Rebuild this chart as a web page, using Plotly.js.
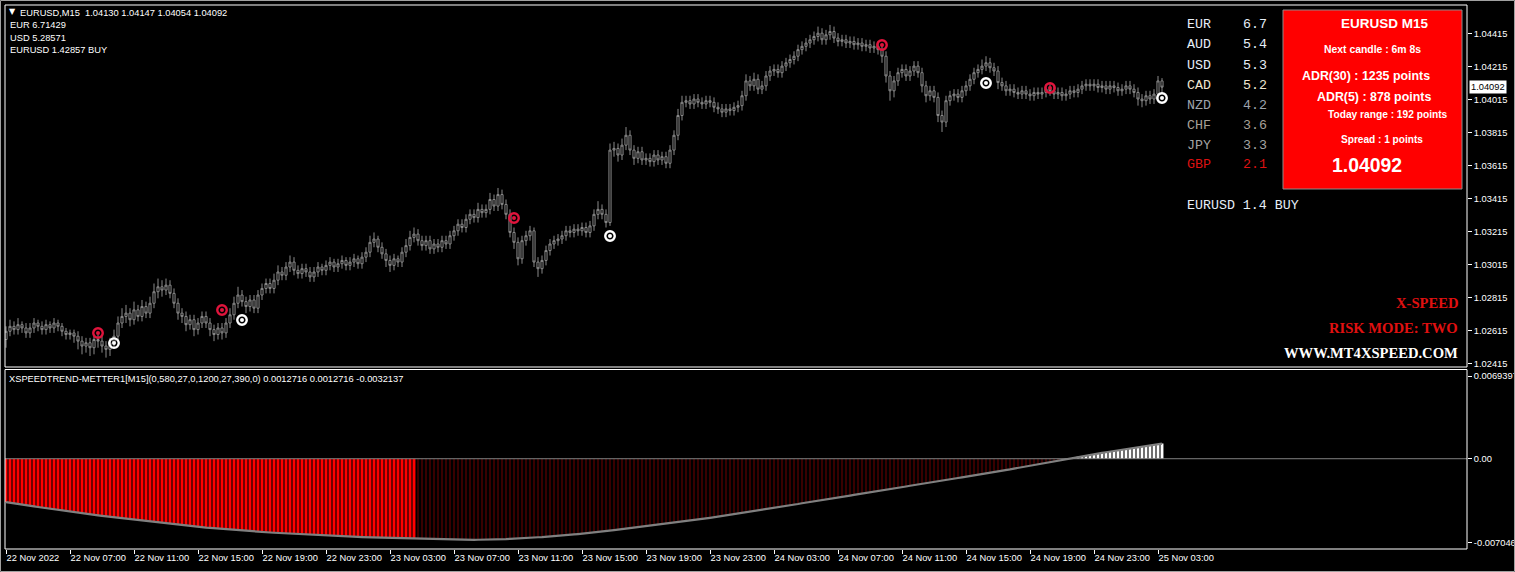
<!DOCTYPE html>
<html><head><meta charset="utf-8">
<script src="https://cdn.plot.ly/plotly-3.0.1.min.js"></script>
<style>html,body{margin:0;padding:0;background:#000;}#chart{width:1515px;height:572px;}</style>
</head><body><div id="chart"></div>
<script>
// ---- EURUSD M15 candles (bar 0 = 22 Nov 2022 03:00) ----
const opens = [
1.0256,1.0261,1.0264,1.0262,1.0265,1.0263,1.0260,1.0263,1.0266,1.0264,
1.0262,1.0265,1.0263,1.0266,1.0264,1.0261,1.0259,1.0260,1.0258,1.0255,
1.0252,1.0254,1.0251,1.0256,1.0255,1.0252,1.0250,1.0254,1.0258,1.0266,
1.0270,1.0272,1.0268,1.0274,1.0270,1.0276,1.0272,1.0278,1.0285,1.0288,
1.0286,1.0289,1.0284,1.0278,1.0272,1.0270,1.0265,1.0268,1.0262,1.0266,
1.0270,1.0266,1.0262,1.0259,1.0263,1.0260,1.0266,1.0271,1.0278,1.0283,
1.0279,1.0276,1.0280,1.0275,1.0283,1.0287,1.0290,1.0287,1.0292,1.0297,
1.0295,1.0300,1.0303,1.0298,1.0296,1.0299,1.0297,1.0294,1.0297,1.0300,
1.0298,1.0301,1.0303,1.0300,1.0302,1.0304,1.0301,1.0303,1.0305,1.0302,
1.0306,1.0309,1.0315,1.0317,1.0312,1.0308,1.0304,1.0301,1.0305,1.0303,
1.0309,1.0313,1.0318,1.0320,1.0316,1.0313,1.0316,1.0311,1.0314,1.0312,
1.0316,1.0314,1.0319,1.0322,1.0326,1.0324,1.0329,1.0332,1.0330,1.0335,
1.0333,1.0335,1.0341,1.0337,1.0344,1.0338,1.0332,1.0321,1.0315,1.0305,
1.0316,1.0319,1.0322,1.0303,1.0299,1.0304,1.0310,1.0314,1.0316,1.0317,
1.0319,1.0322,1.0321,1.0323,1.0322,1.0324,1.0321,1.0325,1.0332,1.0335,
1.0332,1.0327,1.0371,1.0372,1.0368,1.0374,1.0380,1.0371,1.0366,1.0370,
1.0365,1.0366,1.0364,1.0368,1.0365,1.0367,1.0363,1.0371,1.0380,1.0392,
1.0400,1.0401,1.0399,1.0402,1.0400,1.0399,1.0401,1.0400,1.0397,1.0396,
1.0394,1.0396,1.0395,1.0397,1.0398,1.0404,1.0413,1.0410,1.0414,1.0408,
1.0410,1.0416,1.0419,1.0420,1.0418,1.0422,1.0424,1.0426,1.0428,1.0432,
1.0434,1.0436,1.0438,1.0440,1.0442,1.0438,1.0441,1.0443,1.0439,1.0437,
1.0438,1.0436,1.0437,1.0435,1.0436,1.0434,1.0435,1.0433,1.0434,1.0432,
1.0428,1.0416,1.0407,1.0413,1.0418,1.0420,1.0416,1.0419,1.0422,1.0418,
1.0410,1.0404,1.0407,1.0403,1.0392,1.0388,1.0401,1.0404,1.0405,1.0403,
1.0407,1.0410,1.0414,1.0418,1.0420,1.0422,1.0424,1.0421,1.0419,1.0412,
1.0410,1.0407,1.0408,1.0406,1.0405,1.0407,1.0405,1.0404,1.0406,1.0405,
1.0406,1.0408,1.0407,1.0405,1.0406,1.0404,1.0405,1.0407,1.0406,1.0408,
1.0410,1.0411,1.0410,1.0411,1.0409,1.0410,1.0408,1.0410,1.0409,1.0407,
1.0408,1.0410,1.0408,1.0406,1.0402,1.0401,1.0404,1.0402,1.0405,1.04130];
const highs = [
1.0264,1.0268,1.0267,1.0269,1.0267,1.0266,1.0266,1.0269,1.0268,1.0267,
1.0268,1.0267,1.0269,1.0268,1.0266,1.0263,1.0262,1.0262,1.0261,1.0258,
1.0257,1.0257,1.0259,1.0259,1.0258,1.0255,1.0257,1.0262,1.0270,1.0275,
1.0277,1.0275,1.0279,1.0277,1.0280,1.0279,1.0282,1.0290,1.0293,1.0292,
1.0293,1.0292,1.0287,1.0281,1.0275,1.0273,1.0271,1.0271,1.0269,1.0273,
1.0273,1.0269,1.0265,1.0266,1.0266,1.0269,1.0275,1.0282,1.0288,1.0286,
1.0282,1.0283,1.0283,1.0286,1.0290,1.0293,1.0293,1.0296,1.0301,1.0300,
1.0303,1.0307,1.0306,1.0301,1.0302,1.0302,1.0300,1.0300,1.0303,1.0302,
1.0304,1.0306,1.0305,1.0305,1.0307,1.0306,1.0306,1.0308,1.0307,1.0309,
1.0312,1.0319,1.0321,1.0319,1.0315,1.0311,1.0307,1.0308,1.0307,1.0312,
1.0317,1.0322,1.0324,1.0323,1.0319,1.0319,1.0319,1.0317,1.0317,1.0319,
1.0319,1.0322,1.0325,1.0329,1.0329,1.0332,1.0335,1.0335,1.0339,1.0338,
1.0338,1.0345,1.0344,1.0348,1.0347,1.0341,1.0335,1.0324,1.0318,1.0319,
1.0322,1.0325,1.0324,1.0306,1.0307,1.0313,1.0317,1.0319,1.0320,1.0322,
1.0325,1.0325,1.0326,1.0326,1.0327,1.0327,1.0328,1.0335,1.0340,1.0338,
1.0335,1.0375,1.0376,1.0375,1.0378,1.0385,1.0383,1.0374,1.0373,1.0373,
1.0369,1.0369,1.0371,1.0371,1.0370,1.0370,1.0374,1.0383,1.0396,1.0404,
1.0404,1.0404,1.0405,1.0405,1.0403,1.0404,1.0404,1.0403,1.0400,1.0399,
1.0399,1.0399,1.0400,1.0401,1.0407,1.0417,1.0416,1.0418,1.0417,1.0413,
1.0419,1.0422,1.0423,1.0423,1.0425,1.0427,1.0429,1.0431,1.0435,1.0437,
1.0439,1.0441,1.0443,1.0446,1.0445,1.0444,1.0447,1.0446,1.0442,1.0441,
1.0441,1.0440,1.0440,1.0439,1.0439,1.0438,1.0438,1.0437,1.0437,1.0435,
1.0431,1.0419,1.0416,1.0421,1.0423,1.0423,1.0422,1.0425,1.0425,1.0421,
1.0413,1.0410,1.0410,1.0406,1.0395,1.0404,1.0407,1.0408,1.0408,1.0410,
1.0413,1.0417,1.0421,1.0423,1.0426,1.0428,1.0427,1.0424,1.0422,1.0415,
1.0413,1.0411,1.0411,1.0409,1.0410,1.0410,1.0408,1.0409,1.0409,1.0409,
1.0411,1.0411,1.0410,1.0409,1.0409,1.0408,1.0410,1.0410,1.0411,1.0413,
1.0414,1.0414,1.0414,1.0414,1.0413,1.0413,1.0413,1.0413,1.0412,1.0411,
1.0413,1.0413,1.0411,1.0409,1.0405,1.0407,1.0407,1.0408,1.0416,1.04147];
const lows = [
1.0251,1.0258,1.0259,1.0259,1.0260,1.0257,1.0257,1.0260,1.0261,1.0259,
1.0259,1.0260,1.0260,1.0261,1.0258,1.0256,1.0256,1.0254,1.0250,1.0247,
1.0248,1.0246,1.0247,1.0251,1.0248,1.0245,1.0246,1.0251,1.0255,1.0263,
1.0266,1.0264,1.0265,1.0267,1.0267,1.0269,1.0269,1.0275,1.0281,1.0282,
1.0283,1.0281,1.0275,1.0268,1.0266,1.0261,1.0262,1.0258,1.0259,1.0263,
1.0263,1.0258,1.0255,1.0256,1.0256,1.0257,1.0263,1.0268,1.0275,1.0276,
1.0272,1.0273,1.0272,1.0272,1.0280,1.0284,1.0284,1.0284,1.0289,1.0292,
1.0292,1.0297,1.0295,1.0293,1.0293,1.0294,1.0291,1.0291,1.0294,1.0295,
1.0295,1.0298,1.0297,1.0297,1.0299,1.0298,1.0298,1.0300,1.0299,1.0299,
1.0303,1.0306,1.0312,1.0309,1.0305,1.0300,1.0297,1.0298,1.0300,1.0300,
1.0306,1.0310,1.0315,1.0313,1.0310,1.0310,1.0308,1.0308,1.0309,1.0309,
1.0311,1.0311,1.0316,1.0319,1.0321,1.0321,1.0326,1.0327,1.0327,1.0330,
1.0330,1.0332,1.0334,1.0334,1.0335,1.0329,1.0318,1.0311,1.0301,1.0302,
1.0313,1.0316,1.0300,1.0294,1.0296,1.0301,1.0307,1.0311,1.0313,1.0314,
1.0316,1.0318,1.0318,1.0319,1.0319,1.0318,1.0318,1.0322,1.0329,1.0329,
1.0324,1.0325,1.0367,1.0364,1.0365,1.0371,1.0368,1.0362,1.0363,1.0362,
1.0362,1.0361,1.0361,1.0362,1.0362,1.0360,1.0360,1.0368,1.0377,1.0389,
1.0397,1.0396,1.0396,1.0397,1.0396,1.0396,1.0397,1.0394,1.0393,1.0391,
1.0391,1.0392,1.0392,1.0394,1.0395,1.0401,1.0407,1.0407,1.0405,1.0405,
1.0407,1.0413,1.0416,1.0415,1.0415,1.0419,1.0421,1.0423,1.0425,1.0429,
1.0431,1.0433,1.0435,1.0437,1.0435,1.0435,1.0438,1.0436,1.0434,1.0434,
1.0433,1.0433,1.0432,1.0432,1.0431,1.0431,1.0430,1.0430,1.0429,1.0424,
1.0412,1.0401,1.0403,1.0410,1.0415,1.0413,1.0413,1.0416,1.0415,1.0406,
1.0400,1.0401,1.0400,1.0388,1.0382,1.0385,1.0398,1.0401,1.0400,1.0400,
1.0404,1.0407,1.0411,1.0415,1.0417,1.0419,1.0418,1.0416,1.0408,1.0407,
1.0404,1.0404,1.0403,1.0402,1.0402,1.0402,1.0401,1.0401,1.0402,1.0402,
1.0403,1.0404,1.0402,1.0402,1.0401,1.0401,1.0402,1.0403,1.0403,1.0405,
1.0407,1.0407,1.0407,1.0406,1.0406,1.0405,1.0405,1.0406,1.0404,1.0404,
1.0405,1.0405,1.0403,1.0398,1.0397,1.0398,1.0399,1.0399,1.0402,1.04054];
const closes = [
1.0261,1.0264,1.0262,1.0265,1.0263,1.0260,1.0263,1.0266,1.0264,1.0262,
1.0265,1.0263,1.0266,1.0264,1.0261,1.0259,1.0260,1.0258,1.0255,1.0252,
1.0254,1.0251,1.0256,1.0255,1.0252,1.0250,1.0254,1.0258,1.0266,1.0270,
1.0272,1.0268,1.0274,1.0270,1.0276,1.0272,1.0278,1.0285,1.0288,1.0286,
1.0289,1.0284,1.0278,1.0272,1.0270,1.0265,1.0268,1.0262,1.0266,1.0270,
1.0266,1.0262,1.0259,1.0263,1.0260,1.0266,1.0271,1.0278,1.0283,1.0279,
1.0276,1.0280,1.0275,1.0283,1.0287,1.0290,1.0287,1.0292,1.0297,1.0295,
1.0300,1.0303,1.0298,1.0296,1.0299,1.0297,1.0294,1.0297,1.0300,1.0298,
1.0301,1.0303,1.0300,1.0302,1.0304,1.0301,1.0303,1.0305,1.0302,1.0306,
1.0309,1.0315,1.0317,1.0312,1.0308,1.0304,1.0301,1.0305,1.0303,1.0309,
1.0313,1.0318,1.0320,1.0316,1.0313,1.0316,1.0311,1.0314,1.0312,1.0316,
1.0314,1.0319,1.0322,1.0326,1.0324,1.0329,1.0332,1.0330,1.0335,1.0333,
1.0335,1.0341,1.0337,1.0344,1.0338,1.0332,1.0321,1.0315,1.0305,1.0316,
1.0319,1.0322,1.0303,1.0299,1.0304,1.0310,1.0314,1.0316,1.0317,1.0319,
1.0322,1.0321,1.0323,1.0322,1.0324,1.0321,1.0325,1.0332,1.0335,1.0332,
1.0327,1.0371,1.0372,1.0368,1.0374,1.0380,1.0371,1.0366,1.0370,1.0365,
1.0366,1.0364,1.0368,1.0365,1.0367,1.0363,1.0371,1.0380,1.0392,1.0400,
1.0401,1.0399,1.0402,1.0400,1.0399,1.0401,1.0400,1.0397,1.0396,1.0394,
1.0396,1.0395,1.0397,1.0398,1.0404,1.0413,1.0410,1.0414,1.0408,1.0410,
1.0416,1.0419,1.0420,1.0418,1.0422,1.0424,1.0426,1.0428,1.0432,1.0434,
1.0436,1.0438,1.0440,1.0442,1.0438,1.0441,1.0443,1.0439,1.0437,1.0438,
1.0436,1.0437,1.0435,1.0436,1.0434,1.0435,1.0433,1.0434,1.0432,1.0428,
1.0416,1.0407,1.0413,1.0418,1.0420,1.0416,1.0419,1.0422,1.0418,1.0410,
1.0404,1.0407,1.0403,1.0392,1.0388,1.0401,1.0404,1.0405,1.0403,1.0407,
1.0410,1.0414,1.0418,1.0420,1.0422,1.0424,1.0421,1.0419,1.0412,1.0410,
1.0407,1.0408,1.0406,1.0405,1.0407,1.0405,1.0404,1.0406,1.0405,1.0406,
1.0408,1.0407,1.0405,1.0406,1.0404,1.0405,1.0407,1.0406,1.0408,1.0410,
1.0411,1.0410,1.0411,1.0409,1.0410,1.0408,1.0410,1.0409,1.0407,1.0408,
1.0410,1.0408,1.0406,1.0402,1.0401,1.0404,1.0402,1.0405,1.0413,1.04092];

// ---- XSPEEDTREND-METTER1 values per bar ----
const trendValues = [
-0.00364,-0.00370,-0.00375,-0.00380,-0.00385,-0.00390,-0.00395,-0.00400,-0.00405,-0.00410,
-0.00415,-0.00420,-0.00425,-0.00430,-0.00435,-0.00439,-0.00444,-0.00448,-0.00453,-0.00457,
-0.00462,-0.00466,-0.00470,-0.00475,-0.00479,-0.00483,-0.00487,-0.00491,-0.00495,-0.00499,
-0.00503,-0.00507,-0.00511,-0.00515,-0.00519,-0.00523,-0.00527,-0.00531,-0.00535,-0.00539,
-0.00542,-0.00546,-0.00550,-0.00554,-0.00558,-0.00562,-0.00565,-0.00569,-0.00572,-0.00575,
-0.00578,-0.00581,-0.00584,-0.00587,-0.00590,-0.00592,-0.00595,-0.00598,-0.00600,-0.00603,
-0.00605,-0.00608,-0.00610,-0.00612,-0.00615,-0.00617,-0.00619,-0.00621,-0.00623,-0.00625,
-0.00627,-0.00629,-0.00631,-0.00633,-0.00635,-0.00637,-0.00638,-0.00640,-0.00642,-0.00643,
-0.00645,-0.00646,-0.00648,-0.00649,-0.00651,-0.00652,-0.00653,-0.00655,-0.00656,-0.00657,
-0.00658,-0.00660,-0.00661,-0.00662,-0.00663,-0.00664,-0.00665,-0.00666,-0.00667,-0.00668,
-0.00669,-0.00670,-0.00671,-0.00672,-0.00673,-0.00674,-0.00675,-0.00676,-0.00677,-0.00678,
-0.00679,-0.00680,-0.00680,-0.00681,-0.00681,-0.00681,-0.00681,-0.00681,-0.00680,-0.00680,
-0.00679,-0.00678,-0.00677,-0.00676,-0.00675,-0.00674,-0.00672,-0.00671,-0.00669,-0.00667,
-0.00665,-0.00663,-0.00661,-0.00659,-0.00657,-0.00655,-0.00652,-0.00649,-0.00647,-0.00644,
-0.00641,-0.00638,-0.00635,-0.00632,-0.00629,-0.00626,-0.00622,-0.00619,-0.00615,-0.00611,
-0.00607,-0.00603,-0.00599,-0.00595,-0.00591,-0.00587,-0.00583,-0.00579,-0.00575,-0.00571,
-0.00567,-0.00563,-0.00559,-0.00555,-0.00551,-0.00547,-0.00542,-0.00538,-0.00533,-0.00529,
-0.00524,-0.00520,-0.00515,-0.00511,-0.00506,-0.00501,-0.00496,-0.00491,-0.00486,-0.00481,
-0.00476,-0.00471,-0.00466,-0.00461,-0.00456,-0.00451,-0.00446,-0.00440,-0.00435,-0.00430,
-0.00424,-0.00419,-0.00413,-0.00408,-0.00402,-0.00397,-0.00391,-0.00386,-0.00380,-0.00374,
-0.00369,-0.00363,-0.00358,-0.00352,-0.00347,-0.00341,-0.00336,-0.00331,-0.00325,-0.00320,
-0.00314,-0.00309,-0.00303,-0.00298,-0.00292,-0.00287,-0.00282,-0.00276,-0.00271,-0.00265,
-0.00260,-0.00254,-0.00249,-0.00243,-0.00238,-0.00233,-0.00227,-0.00222,-0.00216,-0.00211,
-0.00205,-0.00200,-0.00194,-0.00189,-0.00184,-0.00178,-0.00173,-0.00167,-0.00162,-0.00156,
-0.00151,-0.00145,-0.00140,-0.00135,-0.00129,-0.00124,-0.00118,-0.00113,-0.00108,-0.00102,
-0.00096,-0.00090,-0.00083,-0.00077,-0.00070,-0.00064,-0.00057,-0.00051,-0.00045,-0.00038,
-0.00032,-0.00025,-0.00019,-0.00012,-0.00006,0.00001,0.00006,0.00012,0.00017,0.00022,
0.00028,0.00033,0.00038,0.00043,0.00049,0.00054,0.00059,0.00065,0.00070,0.00075,
0.00080,0.00086,0.00091,0.00096,0.00101,0.00107,0.00112,0.00117,0.00122,0.0012716];
const strongSellLastBar = 102;

// ---- signal arrows ----
const sellSignalBars = [23, 54, 127, 219, 261];
const sellSignalPrices = [1.02599, 1.02739, 1.03298, 1.04348, 1.04087];
const buySignalBars = [27, 59, 151, 245, 289];
const buySignalPrices = [1.02538, 1.02678, 1.03188, 1.04117, 1.04026];

// ---- axes ----
const timeTickBars = [0,16,32,48,64,80,96,112,128,144,160,176,192,208,224,240,256,272,288];
const timeTickLabels = ['22 Nov 2022','22 Nov 07:00','22 Nov 11:00','22 Nov 15:00','22 Nov 19:00','22 Nov 23:00',
 '23 Nov 03:00','23 Nov 07:00','23 Nov 11:00','23 Nov 15:00','23 Nov 19:00','23 Nov 23:00',
 '24 Nov 03:00','24 Nov 07:00','24 Nov 11:00','24 Nov 15:00','24 Nov 19:00','24 Nov 23:00','25 Nov 03:00'];
const priceTicks = [1.04415,1.04215,1.04015,1.03815,1.03615,1.03415,1.03215,1.03015,1.02815,1.02615,1.02415];
const trendTicks = [0.0069397, 0, -0.007046];
const trendTickLabels = ['0.0069397', '0.00', '-0.007046'];

// ---- currency strength panel ----
const currencies = ['EUR','AUD','USD','CAD','NZD','CHF','JPY','GBP'];
const strengths = [6.7, 5.4, 5.3, 5.2, 4.2, 3.6, 3.3, 2.1];
const pairSignal = 'EURUSD 1.4 BUY';
const infoLines = ['EUR 6.71429', 'USD 5.28571', 'EURUSD 1.42857 BUY'];
const boxLines = ['EURUSD M15','Next candle : 6m 8s','ADR(30) : 1235 points','ADR(5) : 878 points','Today range : 192 points','Spread : 1 points'];
const brandLines = ['X-SPEED','RISK MODE: TWO','WWW.MT4XSPEED.COM'];
const indicatorLabel = 'XSPEEDTREND-METTER1[M15](0,580,27,0,1200,27,390,0) 0.0012716 0.0012716 -0.0032137';

// ---- geometry helpers (pixel -> paper) ----
const W = 1515, H = 572, ML = 5, MR = 48, MT = 5, MB = 23;
const PW = W - ML - MR, PH = H - MT - MB;
const ax = x => (x - ML) / PW;
const ay = y => (H - MB - y) / PH;
const mainDomain = [ay(367), 1];
const subDomain = [0, ay(369.5)];

const idx = closes.map((_, i) => i);
const last = closes.length - 1;
const smallFont = 'Liberation Sans, Arial, sans-serif';

const traces = [];
traces.push({type:'candlestick', x: idx, open: opens, high: highs, low: lows, close: closes,
  xaxis:'x', yaxis:'y', whiskerwidth:0, hoverinfo:'skip', showlegend:false,
  increasing:{line:{color:'#8a8a8a', width:1}, fillcolor:'#000000'},
  decreasing:{line:{color:'#8a8a8a', width:1}, fillcolor:'#000000'}});

function ring(bars, prices, col){
  traces.push({type:'scatter', mode:'markers', x: bars, y: prices, xaxis:'x', yaxis:'y', hoverinfo:'skip',
    marker:{symbol:'circle-open', size:9.5, color:col, line:{color:col, width:2.4}}});
  traces.push({type:'scatter', mode:'markers', x: bars, y: prices, xaxis:'x', yaxis:'y', hoverinfo:'skip',
    marker:{symbol:'circle', size:4, color:col, line:{width:0}}});
}
ring(sellSignalBars, sellSignalPrices, '#e0143c');
ring(buySignalBars, buySignalPrices, '#ffffff');

// indicator histogram
const strongX = [], strongY = [], weakX = [], weakY = [], posX = [], posY = [];
trendValues.forEach((v, i) => {
  if (v >= 0) { posX.push(i); posY.push(v); }
  else if (i <= strongSellLastBar) { strongX.push(i); strongY.push(v); }
  else { weakX.push(i); weakY.push(v); }
});
traces.push({type:'bar', x: strongX, y: strongY, width:0.72, xaxis:'x', yaxis:'y2', marker:{color:'#ff0000', line:{width:0}}, hoverinfo:'skip'});
traces.push({type:'bar', x: weakX, y: weakY, width:0.26, xaxis:'x', yaxis:'y2', marker:{color:'#6e0000', line:{width:0}}, hoverinfo:'skip'});
traces.push({type:'bar', x: posX, y: posY, width:0.72, xaxis:'x', yaxis:'y2', marker:{color:'#ffffff', line:{width:0}}, hoverinfo:'skip'});
traces.push({type:'scatter', mode:'lines', x: idx, y: trendValues, xaxis:'x', yaxis:'y2', hoverinfo:'skip',
  line:{color:'#808080', width:2.2}});

const annotations = [];
function txt(text, x, y, size, color, family, anchor, bold, extra){
  annotations.push(Object.assign({text: bold ? '<b>' + text + '</b>' : text, xref:'paper', yref:'paper', x: ax(x), y: ay(y),
    xanchor: anchor || 'left', yanchor:'middle', showarrow:false, borderpad:0,
    font:{size:size, color:color, family:family}}, extra || {}));
}
// top-left info
txt('\u25BC', 8, 12, 8, '#ffffff', 'DejaVu Sans');
txt('EURUSD,M15\u00a0\u00a0' + [opens[last], highs[last], lows[last], closes[last]].map(v => v.toFixed(5)).join(' '), 19, 12.5, 9.3, '#ffffff', smallFont);
infoLines.forEach((t, i) => txt(t, 9, 25 + 12.6 * i, 9.3, '#ffffff', smallFont));
txt(indicatorLabel, 7.5, 378.5, 9.3, '#ffffff', smallFont);

// currency strength table
const strengthColors = ['#e6eef8','#e6eef8','#e6eef8','#efe6d2','#9ea4ad','#a8a198','#a4a4a4','#dd1111'];
currencies.forEach((c, i) => {
  txt(c, 1186, 25 + 20 * i, 13.3, strengthColors[i], 'Liberation Mono, monospace');
  txt(strengths[i].toFixed(1), 1242, 25 + 20 * i, 13.3, strengthColors[i], 'Liberation Mono, monospace');
});
txt(pairSignal, 1186, 205, 13.3, '#e6eef8', 'Liberation Mono, monospace');

// red info box
const boxPos = [[1340,24,13.5],[1323,49,10.4],[1301,76,12.4],[1316,96.5,12.4],[1327,115,10.2],[1340,139.5,10.1]];
boxLines.forEach((t, i) => txt(t, boxPos[i][0], boxPos[i][1], boxPos[i][2], '#ffffff', smallFont, 'left', true));
txt(closes[last].toFixed(5), 1331, 165, 19.4, '#ffffff', smallFont, 'left', true);

// brand texts
const brandPos = [[302.5,'#e01010'],[327.5,'#e01010'],[352.5,'#ffffff']];
brandLines.forEach((t, i) => txt(t, 1459, brandPos[i][0], 14.6, brandPos[i][1], 'Liberation Serif, DejaVu Serif, serif', 'right', true));

// current price tag on price axis
annotations.push({text: closes[last].toFixed(5), xref:'paper', yref:'y', x: 1, y: closes[last], xanchor:'left', yanchor:'middle',
  xshift: 2, showarrow:false, bgcolor:'#ffffff', borderpad:1, font:{size:9.3, color:'#000000', family: smallFont}});

const shapes = [
  {type:'rect', xref:'paper', yref:'paper', x0: ax(0.5), x1: ax(1514.5), y0: ay(571.5), y1: ay(0.5), line:{color:'#a0a0a0', width:1}},
  {type:'line', xref:'paper', yref:'y2', x0: 0, x1: 1, y0: 0, y1: 0, line:{color:'#808080', width:1}, layer:'above'},
  {type:'rect', xref:'paper', yref:'paper', x0: 0, x1: 1, y0: mainDomain[0], y1: 1, line:{color:'#ffffff', width:1}},
  {type:'rect', xref:'paper', yref:'paper', x0: 0, x1: 1, y0: 0, y1: subDomain[1], line:{color:'#ffffff', width:1}},
  {type:'rect', xref:'paper', yref:'paper', x0: ax(1283), x1: ax(1462), y0: ay(189), y1: ay(10), fillcolor:'#ff0000', line:{color:'#8c8c8c', width:1}, layer:'below'}
];

const axFont = {color:'#ffffff', size:9.3, family: smallFont};
const layout = {
  width: W, height: H, paper_bgcolor:'#000000', plot_bgcolor:'#000000',
  margin:{l:ML, r:MR, t:MT, b:MB}, showlegend:false, barmode:'overlay', boxgap:0.25,
  xaxis:{range:[-0.25, -0.25 + PW / 4], anchor:'y2', tickmode:'array', tickvals: timeTickBars, ticktext: timeTickLabels,
    tickangle:0, ticks:'outside', ticklen:4, tickcolor:'#ffffff', tickwidth:1, tickfont: axFont, ticklabelposition:'outside right',
    showgrid:false, zeroline:false, showline:false, rangeslider:{visible:false}, fixedrange:true},
  yaxis:{domain: mainDomain, range:[1.02393, 1.04591], side:'right', anchor:'x', tickmode:'array', tickvals: priceTicks,
    ticktext: priceTicks.map(v => v.toFixed(5)), ticks:'outside', ticklen:4, tickcolor:'#ffffff', tickfont: axFont,
    showgrid:false, zeroline:false, showline:false, fixedrange:true},
  yaxis2:{domain: subDomain, range:[-0.0075746, 0.0074851], side:'right', anchor:'x', tickmode:'array', tickvals: trendTicks,
    ticktext: trendTickLabels, ticks:'outside', ticklen:4, tickcolor:'#ffffff', tickfont: axFont,
    showgrid:false, zeroline:false, showline:false, fixedrange:true},
  shapes: shapes, annotations: annotations
};
Plotly.newPlot('chart', traces, layout, {staticPlot:true, displayModeBar:false});
</script></body></html>
